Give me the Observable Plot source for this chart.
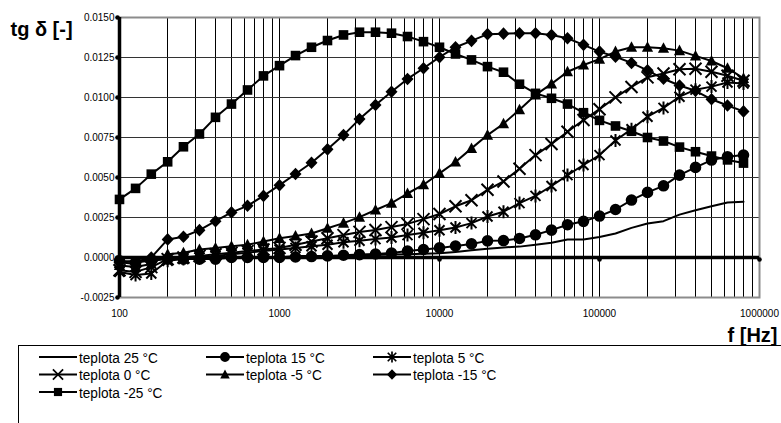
<!DOCTYPE html>
<html><head><meta charset="utf-8">
<script src="https://cdn.jsdelivr.net/npm/d3@7"></script>
<script src="https://cdn.jsdelivr.net/npm/@observablehq/plot@0.6"></script>
<style>
body{margin:0;background:#fff;font-family:"Liberation Sans",Arial,sans-serif;}
#wrap{position:relative;width:781px;height:423px;overflow:hidden;background:#fff;}
#wrap svg{position:absolute;left:0;top:0;}
</style></head><body><div id="wrap"></div>
<script>
// frequencies [Hz]
const freqs = [100,126,158,200,251,316,398,501,631,794,
  1000,1259,1585,1995,2512,3162,3981,5012,6310,7943,
  10000,12589,15849,19953,25119,31623,39811,50119,63096,79433,
  100000,125893,158489,199526,251189,316228,398107,501187,630957,794328];

const t25 = [-0.0003,-0.0002,-0.0001,-0.0001,0.0000,0.0000,0.0000,0.0000,0.0000,0.0000,
  0.0000,0.0001,0.0001,0.0001,0.0001,0.00012,0.00015,0.00018,0.0002,0.00023,
  0.00027,0.00035,0.00045,0.00055,0.00063,0.00068,0.0008,0.00092,0.00112,0.00113,
  0.00128,0.0015,0.00185,0.00212,0.00227,0.00268,0.00295,0.0032,0.00344,0.00348];
const t15 = [-0.0002,-0.0003,-0.0002,-0.0001,-0.0001,-0.0001,-0.0001,0.0000,0.0000,0.0000,
  0.0000,0.00003,0.00006,0.0001,0.00014,0.00018,0.00022,0.00028,0.0004,0.0005,
  0.0006,0.00072,0.00085,0.00104,0.00106,0.00119,0.00142,0.00171,0.00205,0.00226,
  0.00259,0.0030,0.00359,0.00407,0.00448,0.00515,0.00563,0.00609,0.0063,0.0064];
const t5 = [-0.0009,-0.0011,-0.0010,-0.0002,-0.0001,0.0000,0.0001,0.0002,0.0003,0.0004,
  0.0005,0.0006,0.0007,0.0008,0.00095,0.00105,0.00115,0.00125,0.0014,0.00155,
  0.0017,0.00188,0.00215,0.00256,0.00286,0.0034,0.00385,0.00447,0.00515,0.00578,
  0.0064,0.00731,0.00802,0.0088,0.00935,0.01005,0.01049,0.01068,0.01094,0.01088];
const t0 = [-0.0008,-0.0009,-0.0006,-0.0001,0.0000,0.0001,0.0002,0.0003,0.0004,0.0005,
  0.0006,0.0008,0.0010,0.0012,0.0014,0.0016,0.00172,0.0019,0.0021,0.0024,
  0.00272,0.0032,0.00358,0.00423,0.00475,0.00555,0.0064,0.00709,0.00786,0.00859,
  0.00927,0.01001,0.01066,0.01126,0.0115,0.01177,0.0118,0.01161,0.01136,0.01105];
const tm5 = [-0.0005,-0.0006,-0.0004,0.0002,0.0003,0.0005,0.0006,0.0007,0.0008,0.0010,
  0.0012,0.00135,0.0015,0.00183,0.00215,0.00252,0.00297,0.0034,0.0040,0.00455,
  0.00526,0.00597,0.00682,0.00765,0.00836,0.00924,0.01016,0.01085,0.01161,0.01203,
  0.0124,0.01287,0.01314,0.01314,0.01308,0.01293,0.0126,0.01228,0.01183,0.0112];
const tm15 = [-0.0003,-0.0004,0.0000,0.00113,0.0013,0.00171,0.00227,0.00282,0.00323,0.00385,
  0.00452,0.00522,0.00592,0.00676,0.00765,0.00865,0.00953,0.01036,0.01116,0.01183,
  0.01252,0.01314,0.01354,0.01396,0.01399,0.01402,0.01402,0.01391,0.0137,0.01329,
  0.01287,0.01255,0.01216,0.0117,0.01117,0.01075,0.01042,0.00989,0.0095,0.00913];
const tm25 = [0.00363,0.00432,0.00521,0.00598,0.00692,0.00772,0.00876,0.00959,0.01047,0.01135,
  0.01199,0.01262,0.01314,0.01356,0.01391,0.01408,0.01408,0.01402,0.01381,0.01349,
  0.01314,0.01272,0.01235,0.01193,0.01158,0.01083,0.01026,0.00995,0.00959,0.00905,
  0.00857,0.00822,0.00789,0.0075,0.00728,0.0069,0.00661,0.00634,0.0061,0.0059];

const seriesNames = ["teplota 25 °C","teplota 15 °C","teplota 5 °C","teplota 0 °C","teplota -5 °C","teplota -15 °C","teplota -25 °C"];
const seriesValues = [t25, t15, t5, t0, tm5, tm15, tm25];

const xTicks = [100,1000,10000,100000,1000000];
const xGrid = [100,200,300,400,500,600,700,800,900,
  1000,2000,3000,4000,5000,6000,7000,8000,9000,
  10000,20000,30000,40000,50000,60000,70000,80000,90000,
  100000,200000,300000,400000,500000,600000,700000,800000,900000,1000000];
const yTicks = [-0.0025,0,0.0025,0.005,0.0075,0.01,0.0125,0.015];

// marker shapes
const symSquare = {draw(c){c.rect(-4.8,-4.8,9.6,9.6);}};
const symDiamond = {draw(c){c.moveTo(0,-6.3);c.lineTo(6,0);c.lineTo(0,6.3);c.lineTo(-6,0);c.closePath();}};
const symTriangle = {draw(c){c.moveTo(0,-6);c.lineTo(5.6,4.6);c.lineTo(-5.6,4.6);c.closePath();}};
const symCircle = {draw(c){c.moveTo(5.8,0);c.arc(0,0,5.8,0,2*Math.PI);}};
const symX = {draw(c){c.moveTo(-6,-6);c.lineTo(6,6);c.moveTo(-6,6);c.lineTo(6,-6);}};
const symAst = {draw(c){c.moveTo(-5,-5);c.lineTo(5,5);c.moveTo(-5,5);c.lineTo(5,-5);c.moveTo(0,-6.5);c.lineTo(0,6.5);}};
const seriesSym = [null, {s:symCircle,f:true}, {s:symAst,f:false}, {s:symX,f:false}, {s:symTriangle,f:true}, {s:symDiamond,f:true}, {s:symSquare,f:true}];

const rows = seriesNames.flatMap((name, j) => freqs.map((f, i) => ({f, v: seriesValues[j][i], s: name, j})));

const dotMarks = seriesSym.map((m, j) => {
  if (!m) return null;
  const data = rows.filter(d => d.j === j);
  return m.f
    ? Plot.dot(data, {x:"f", y:"v", symbol:m.s, r:5, fill:"#000", stroke:"none"})
    : Plot.dot(data, {x:"f", y:"v", symbol:m.s, r:5, fill:"none", stroke:"#000", strokeWidth:2});
}).filter(Boolean);

const chart = Plot.plot({
  width: 781, height: 343,
  marginLeft: 119, marginRight: 22, marginTop: 17, marginBottom: 46,
  x: {type: "log", domain: [100, 1000000], label: null},
  y: {domain: [-0.0025, 0.015], label: null},
  style: {fontFamily: "Liberation Sans, Arial, sans-serif", fontSize: "10px", color: "#000", background: "transparent", overflow: "visible"},
  marks: [
    Plot.ruleX(xGrid, {stroke: "#000", strokeWidth: 1, shapeRendering: "crispEdges"}),
    Plot.ruleY(yTicks, {stroke: "#333", strokeWidth: 1, shapeRendering: "crispEdges"}),
    Plot.frame({stroke: "#8c8c8c", strokeWidth: 2}),
    Plot.ruleX([100], {stroke: "#000", strokeWidth: 3.5}),
    Plot.ruleY([0], {stroke: "#000", strokeWidth: 3.5}),
    Plot.dot(xTicks, {x: d => d, y: 0, r: 2.3, fill: "#000", dy: 2}),
    Plot.dot(yTicks, {x: 100, y: d => d, r: 2.3, fill: "#000", dx: -2}),
    Plot.line(rows, {x: "f", y: "v", z: "s", stroke: "#000", strokeWidth: 2}),
    ...dotMarks,
    Plot.axisY({ticks: yTicks, tickFormat: d => d.toFixed(4), tickSize: 0, tickPadding: 5, fontSize: 10, label: null}),
    Plot.axisX({ticks: xTicks, tickFormat: d => String(d), tickSize: 0, tickPadding: 12, fontSize: 10, label: null}),
    Plot.text(["tg δ [-]"], {frameAnchor: "top-left", textAnchor: "start", lineAnchor: "bottom", dx: -109, dy: 18, fontSize: 20, fontWeight: "bold"}),
    Plot.text(["f [Hz]"], {frameAnchor: "bottom-right", textAnchor: "end", lineAnchor: "bottom", dx: 18, dy: 44, fontSize: 20, fontWeight: "bold"})
  ]
});
const wrap = document.getElementById("wrap");
wrap.appendChild(chart);

// legend
const lg = d3.select(wrap).append("svg").attr("width", 781).attr("height", 423)
  .style("overflow", "visible");
lg.append("rect").attr("x", 18.5).attr("y", 345.5).attr("width", 800).attr("height", 100)
  .attr("fill", "none").attr("stroke", "#000").attr("stroke-width", 1);
seriesNames.forEach((name, i) => {
  const col = i % 3, row = Math.floor(i / 3);
  const x0 = 39 + col * 167, cy = 357 + row * 17.5;
  const g = lg.append("g");
  g.append("line").attr("x1", x0).attr("x2", x0 + 38).attr("y1", cy).attr("y2", cy)
    .attr("stroke", "#000").attr("stroke-width", 2);
  const m = seriesSym[i];
  if (m) {
    const p = d3.path(); m.s.draw(p);
    g.append("path").attr("d", p.toString()).attr("transform", `translate(${x0 + 19},${cy}) scale(0.85)`)
      .attr("fill", m.f ? "#000" : "none").attr("stroke", m.f ? "none" : "#000").attr("stroke-width", 2);
  }
  g.append("text").text(name).attr("transform", `translate(${x0 + 40},${cy}) scale(0.88,1)`)
    .attr("dy", "0.36em").attr("font-size", 15.5).attr("font-family", "Liberation Sans, Arial, sans-serif");
});
</script></body></html>
